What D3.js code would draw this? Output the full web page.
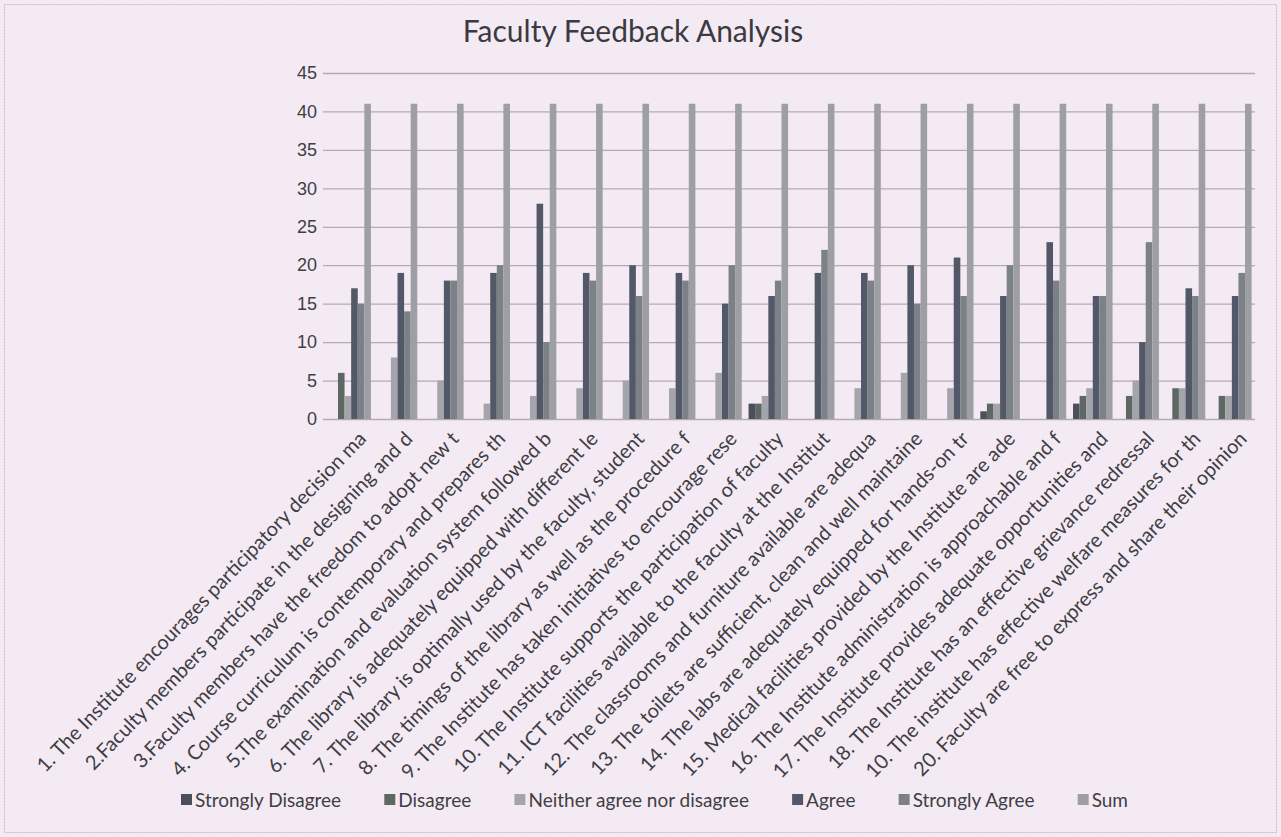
<!DOCTYPE html>
<html>
<head>
<meta charset="utf-8">
<script src="https://cdn.jsdelivr.net/npm/d3@7"></script>
<style>
  body { margin: 0; background: #f4eaf4; }
  svg { display: block; font-family: Lato, "Noto Sans", sans-serif; }
</style>
</head>
<body>
<div id="chart"></div>
<script>
let width = 1281,
    height = 837

// questions (Excel truncated them on the axis)
let questions = [
  "1. The Institute encourages participatory decision ma",
  "2.Faculty members participate in the designing and d",
  "3.Faculty members have the freedom to adopt new t",
  "4. Course curriculum is contemporary and prepares th",
  "5.The examination and evaluation system followed b",
  "6.  The library is adequately equipped with different le",
  "7.  The library is optimally used by the faculty, student",
  "8. The timings of the library as well as the procedure f",
  "9. The Institute has taken initiatives to encourage rese",
  "10. The Institute supports the participation of faculty",
  "11. ICT facilities available to the faculty at the Institut",
  "12. The classrooms and furniture available are adequa",
  "13. The toilets are sufficient, clean and well maintaine",
  "14. The labs are adequately equipped for hands-on tr",
  "15. Medical facilities provided by the Institute are ade",
  "16. The Institute administration is approachable and f",
  "17. The Institute provides adequate opportunities and",
  "18. The Institute has an effective grievance redressal",
  "10. The institute has effective welfare measures for th",
  "20. Faculty are free to express and share their opinion"
]

let seriesNames = ["Strongly Disagree", "Disagree", "Neither agree nor disagree", "Agree", "Strongly Agree", "Sum"]

let stronglyDisagree = [0, 0, 0, 0, 0, 0, 0, 0, 0, 2, 0, 0, 0, 0, 1, 0, 2, 0, 0, 0]
let disagree         = [6, 0, 0, 0, 0, 0, 0, 0, 0, 2, 0, 0, 0, 0, 2, 0, 3, 3, 4, 3]
let neither          = [3, 8, 5, 2, 3, 4, 5, 4, 6, 3, 0, 4, 6, 4, 2, 0, 4, 5, 4, 3]
let agree            = [17, 19, 18, 19, 28, 19, 20, 19, 15, 16, 19, 19, 20, 21, 16, 23, 16, 10, 17, 16]
let stronglyAgree    = [15, 14, 18, 20, 10, 18, 16, 18, 20, 18, 22, 18, 15, 16, 20, 18, 16, 23, 16, 19]
let sum              = [41, 41, 41, 41, 41, 41, 41, 41, 41, 41, 41, 41, 41, 41, 41, 41, 41, 41, 41, 41]

let yTicks = [0, 5, 10, 15, 20, 25, 30, 35, 40, 45]

let colors = ["#4b4f5c", "#5d6763", "#a4a4ab", "#525867", "#7c8087", "#9d9fa4"]

let table = questions.map((q, i) => ({
  q: q,
  values: [stronglyDisagree[i], disagree[i], neither[i], agree[i], stronglyAgree[i], sum[i]]
}))

let svg = d3.select("#chart").append("svg")
  .attr("width", width)
  .attr("height", height)

// scanned page frame
svg.append("rect")
  .attr("x", 4.5).attr("y", 4.5)
  .attr("width", width - 9).attr("height", height - 9)
  .attr("fill", "#f4eaf4")
  .attr("stroke", "#c4bcc4")
  .attr("stroke-dasharray", "2,1")

let margin = { left: 328, right: 26, top: 73, bottom: 419 }

let y = d3.scaleLinear()
  .domain([0, 45])
  .range([margin.bottom, margin.top])

let x0 = d3.scaleBand()
  .domain(questions)
  .range([margin.left, width - margin.right])
  .paddingInner(0.147)
  .paddingOuter(0.073)

let x1 = d3.scaleBand()
  .domain(seriesNames)
  .range([0, x0.bandwidth()])

// gridlines + y labels
let yAxis = svg.append("g")
  .attr("transform", `translate(${margin.left - 5},0)`)
  .call(d3.axisLeft(y).tickValues(yTicks).tickSize(-(width - margin.left - margin.right + 5)).tickPadding(6))

yAxis.select(".domain").remove()
yAxis.selectAll(".tick line")
  .attr("stroke", "#b3aab3")
  .attr("stroke-width", 1.3)
yAxis.selectAll(".tick text")
  .attr("fill", "#3e3e44")
  .style("font-size", "18px")

// bars
let group = svg.selectAll(".grp")
  .data(table)
  .enter().append("g")
  .attr("class", "grp")
  .attr("transform", d => `translate(${x0(d.q)},0)`)

group.selectAll("rect")
  .data(d => d.values.map((v, k) => ({ key: seriesNames[k], v: v, k: k })))
  .enter().append("rect")
  .attr("x", d => x1(d.key))
  .attr("width", x1.bandwidth())
  .attr("y", d => y(d.v))
  .attr("height", d => y(0) - y(d.v))
  .attr("fill", d => colors[d.k])

// x labels, rotated
svg.append("g").selectAll("text")
  .data(questions)
  .enter().append("text")
  .attr("transform", d => `translate(${x0(d) + x0.bandwidth() / 2 + 5},${margin.bottom + 10}) rotate(-46)`)
  .attr("text-anchor", "end")
  .attr("dy", "0.78em")
  .attr("fill", "#3e3e44")
  .style("font-size", "20px")
  .text(d => d)

// title
svg.append("text")
  .attr("x", 633)
  .attr("y", 42)
  .attr("text-anchor", "middle")
  .attr("fill", "#3a3a40")
  .style("font-size", "30px")
  .text("Faculty Feedback Analysis")

// legend - items spread evenly between 181 and 1128
let legend = svg.append("g").selectAll("g")
  .data(seriesNames)
  .enter().append("g")

legend.append("rect")
  .attr("y", -6).attr("width", 11).attr("height", 11)
  .attr("fill", (d, i) => colors[i])

legend.append("text")
  .attr("x", 14)
  .attr("dy", "0.36em")
  .attr("fill", "#3e3e44")
  .style("font-size", "19px")
  .text(d => d)

let itemW = []
legend.each(function() { itemW.push(this.getBBox().width) })
let gap = (1128 - 181 - d3.sum(itemW)) / (itemW.length - 1)
let lx = 181
legend.attr("transform", (d, i) => {
  let t = `translate(${lx},800)`
  lx += itemW[i] + gap
  return t
})
</script>
</body>
</html>
